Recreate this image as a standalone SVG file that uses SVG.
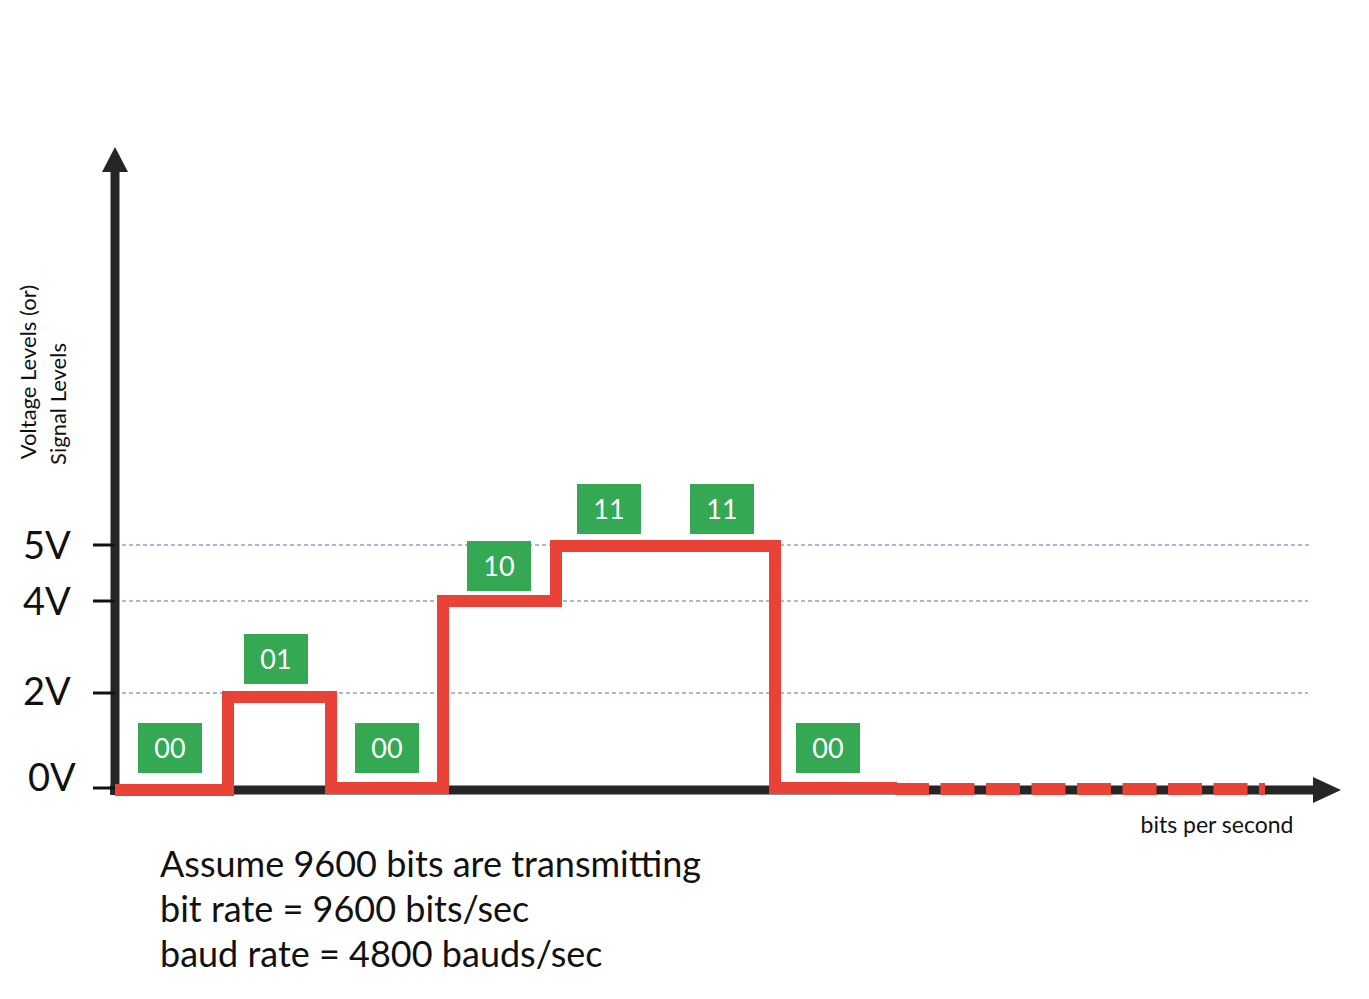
<svg xmlns="http://www.w3.org/2000/svg" width="1369" height="999" viewBox="0 0 1369 999">
<style>
text{font-family:Lato,"Liberation Sans",sans-serif;fill:#111}
.lv{font-size:38px}
.bx rect{fill:#34a853}
.bx text{fill:#fff;font-size:27px;text-anchor:middle}
.grid{stroke:#4a72c4;stroke-width:1;stroke-dasharray:4 3}
.tick{stroke:#111;stroke-width:3}
</style>
<rect width="1369" height="999" fill="#fff"/>
<g id="grid">
<line class="grid" x1="115" y1="545" x2="1310" y2="545"/>
<line class="grid" x1="115" y1="601" x2="1308" y2="601"/>
<line class="grid" x1="115" y1="693" x2="1308" y2="693"/>
</g>
<g id="axes">
<line x1="115" y1="795" x2="115" y2="165" stroke="#262626" stroke-width="9"/>
<polygon points="102,172 115,147 128,172" fill="#262626"/>
<line x1="110" y1="790" x2="1320" y2="790" stroke="#262626" stroke-width="9"/>
<polygon points="1313,777 1341,790 1313,803" fill="#262626"/>
<line class="tick" x1="93" y1="545" x2="115" y2="545"/>
<line class="tick" x1="93" y1="601" x2="115" y2="601"/>
<line class="tick" x1="93" y1="693" x2="115" y2="693"/>
<line class="tick" x1="93" y1="788" x2="115" y2="788"/>
</g>
<g id="labels">
<text class="lv" x="23" y="559">5V</text>
<text class="lv" x="23" y="615">4V</text>
<text class="lv" x="23" y="705">2V</text>
<text class="lv" x="28" y="791">0V</text>
<text x="1217" y="833" font-size="23" text-anchor="middle">bits per second</text>
<text transform="translate(36,372) rotate(-90)" font-size="22" text-anchor="middle">Voltage Levels (or)</text>
<text transform="translate(66,404) rotate(-90)" font-size="22" text-anchor="middle">Signal Levels</text>
<text x="160" y="877" font-size="36">Assume 9600 bits are transmitting</text>
<text x="160" y="922" font-size="36">bit rate = 9600 bits/sec</text>
<text x="160" y="967" font-size="36">baud rate = 4800 bauds/sec</text>
</g>
<g id="signal" fill="none" stroke="#e84336" stroke-width="12">
<polyline points="115,790 228,790 228,697 331,697 331,788 443,788 443,601 556,601 556,546 775,546 775,788 897,788"/>
<line x1="895" y1="789" x2="1265" y2="789" stroke-dasharray="34 11.5"/>
</g>
<g id="n1" class="bx"><rect x="138" y="723" width="64" height="50"/><text x="170" y="758">00</text></g>
<g id="n2" class="bx"><rect x="244" y="634" width="64" height="50"/><text x="276" y="669">01</text></g>
<g id="n3" class="bx"><rect x="355" y="723" width="64" height="50"/><text x="387" y="758">00</text></g>
<g id="n4" class="bx"><rect x="467" y="541" width="64" height="50"/><text x="499" y="576">10</text></g>
<g id="n5" class="bx"><rect x="577" y="484" width="64" height="50"/><text x="609" y="519">11</text></g>
<g id="n6" class="bx"><rect x="690" y="484" width="64" height="50"/><text x="722" y="519">11</text></g>
<g id="n7" class="bx"><rect x="796" y="723" width="64" height="50"/><text x="828" y="758">00</text></g>
</svg>
